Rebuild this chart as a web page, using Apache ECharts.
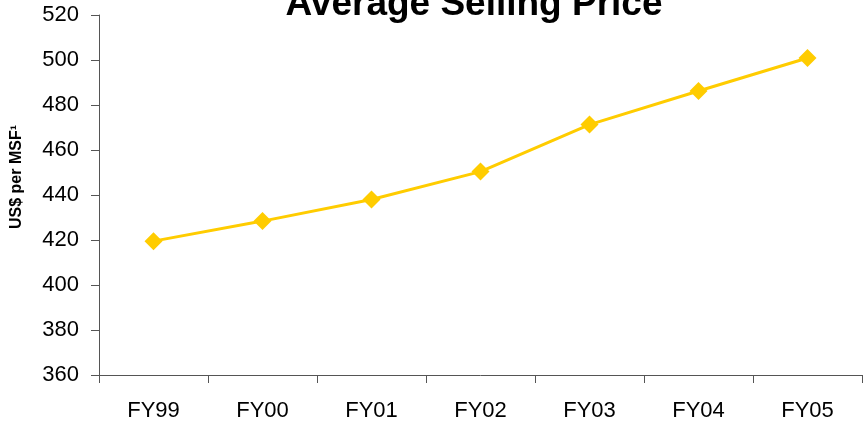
<!DOCTYPE html>
<html>
<head>
<meta charset="utf-8">
<script src="https://cdn.jsdelivr.net/npm/echarts@6/dist/echarts.min.js"></script>
<style>
  html, body { margin: 0; padding: 0; background: #fff; }
  #chart { width: 864px; height: 423px; }
</style>
</head>
<body>
<div id="chart"></div>
<script>
const categories = ['FY99', 'FY00', 'FY01', 'FY02', 'FY03', 'FY04', 'FY05']
const prices = [419.5, 428.4, 438.0, 450.4, 471.3, 486.2, 500.9]
const yMin = 360
const yMax = 520
const yStep = 20

const chart = echarts.init(document.getElementById('chart'))
const font = 'Liberation Sans, Arial, sans-serif'

const option = {
  animation: false,
  title: {
    text: 'Average Selling Price',
    left: 469,
    textAlign: 'center',
    top: -19,
    textStyle: {
      fontFamily: font,
      fontSize: 37,
      fontWeight: 'bold',
      color: '#000',
    },
  },
  graphic: [
    {
      type: 'text',
      x: 17,
      y: 177,
      rotation: Math.PI / 2,
      style: {
        text: 'US$ per MSF¹',
        font: 'bold 16px ' + font,
        fill: '#000',
        align: 'center',
        verticalAlign: 'middle',
      },
    },
  ],
  grid: {
    top: 15,
    left: 99,
    right: 2,
    bottom: 48,
  },
  xAxis: {
    type: 'category',
    data: categories,
    boundaryGap: true,
    axisLine: { lineStyle: { color: '#555', width: 1 } },
    axisTick: { show: true, length: 8, lineStyle: { color: '#555' } },
    axisLabel: {
      margin: 25,
      fontFamily: font,
      fontSize: 22,
      color: '#000',
    },
    splitLine: { show: false },
  },
  yAxis: {
    type: 'value',
    min: yMin,
    max: yMax,
    interval: yStep,
    axisLine: { show: true, lineStyle: { color: '#555', width: 1 } },
    axisTick: { show: true, length: 8, lineStyle: { color: '#555' } },
    axisLabel: {
      margin: 20,
      fontFamily: font,
      fontSize: 22,
      color: '#000',
    },
    splitLine: { show: false },
  },
  series: [
    {
      name: 'Average Selling Price',
      type: 'line',
      data: prices,
      symbol: 'diamond',
      symbolSize: 18,
      lineStyle: { color: '#FFCC00', width: 3 },
      itemStyle: { color: '#FFCC00' },
    },
  ],
}
chart.setOption(option)
</script>
</body>
</html>
